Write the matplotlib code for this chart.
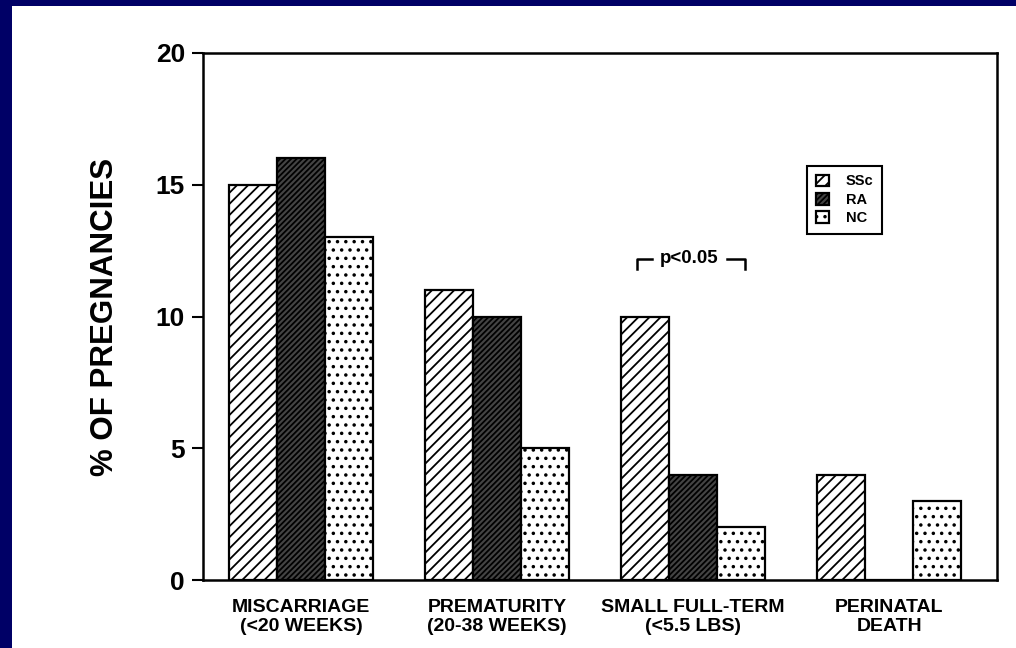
import numpy as np
import matplotlib
matplotlib.use("Agg")
import matplotlib.pyplot as plt
from matplotlib.patches import Rectangle

plt.rcParams['font.family'] = ['Liberation Sans', 'DejaVu Sans']
plt.rcParams['font.weight'] = 'bold'
plt.rcParams['hatch.linewidth'] = 1.3

# outcome groups and % of pregnancies per cohort
outcomes = ["MISCARRIAGE\n(<20 WEEKS)", "PREMATURITY\n(20-38 WEEKS)",
            "SMALL FULL-TERM\n(<5.5 LBS)", "PERINATAL\nDEATH"]
ssc = [15, 11, 10, 4]
ra = [16, 10, 4, 0]
nc = [13, 5, 2, 3]
series_names = ["SSc", "RA", "NC"]
yticks = [0, 5, 10, 15, 20]

fig = plt.figure(figsize=(10.16, 6.48), dpi=100)
fig.patch.set_facecolor('white')
# navy frame on the left and top edges
fig.patches.append(Rectangle((0, 0), 12 / 1016, 1, transform=fig.transFigure,
                             facecolor='#000066', edgecolor='none', zorder=0))
fig.patches.append(Rectangle((0, 1 - 6 / 648), 1, 6 / 648, transform=fig.transFigure,
                             facecolor='#000066', edgecolor='none', zorder=0))

ax = fig.add_axes([203 / 1016, 1 - 580 / 648, 794 / 1016, 527 / 648])

x = np.arange(len(outcomes))
w = 0.245
styles = [
    dict(facecolor='white', hatch='///'),
    dict(facecolor='#444444', hatch='//////'),
    dict(facecolor='white', hatch='..'),
]
for i, (vals, name, st) in enumerate(zip([ssc, ra, nc], series_names, styles)):
    ax.bar(x + (i - 1) * w, vals, w, label=name, edgecolor='black',
           linewidth=1.6, **st)

ax.set_xlim(-0.5, 3.55)
ax.set_ylim(0, 20)
ax.set_yticks(yticks)
ax.set_yticklabels([str(t) for t in yticks], fontsize=19, fontweight='bold')
ax.tick_params(axis='y', direction='out', length=8, width=1.5, pad=5)
ax.set_xticks(x)
ax.set_xticklabels(outcomes, fontsize=14, fontweight='bold', linespacing=1.15)
ax.tick_params(axis='x', length=0, pad=14)
for sp in ax.spines.values():
    sp.set_linewidth(1.8)

ax.set_ylabel("% OF PREGNANCIES", fontsize=22.5, fontweight='bold', labelpad=26)

leg = ax.legend(loc='upper left', bbox_to_anchor=(0.752, 0.8), fontsize=10.5,
                handlelength=0.85, handleheight=0.85, handletextpad=1.2,
                labelspacing=0.3, borderpad=0.6, fancybox=False,
                edgecolor='black', framealpha=1)
leg.get_frame().set_linewidth(1.5)
for t in leg.get_texts():
    t.set_fontweight('bold')

# significance bracket over the small full-term group
yb, yt = 11.8, 12.2
ax.plot([1.714, 1.714, 1.79], [yb, yt, yt], color='black', lw=1.8)
ax.plot([2.173, 2.265, 2.265], [yt, yt, yb], color='black', lw=1.8)
ax.text(1.982, yt, "p<0.05", ha='center', va='center', fontsize=13.5,
        fontweight='bold')

fig.savefig("out.png", dpi=100)
